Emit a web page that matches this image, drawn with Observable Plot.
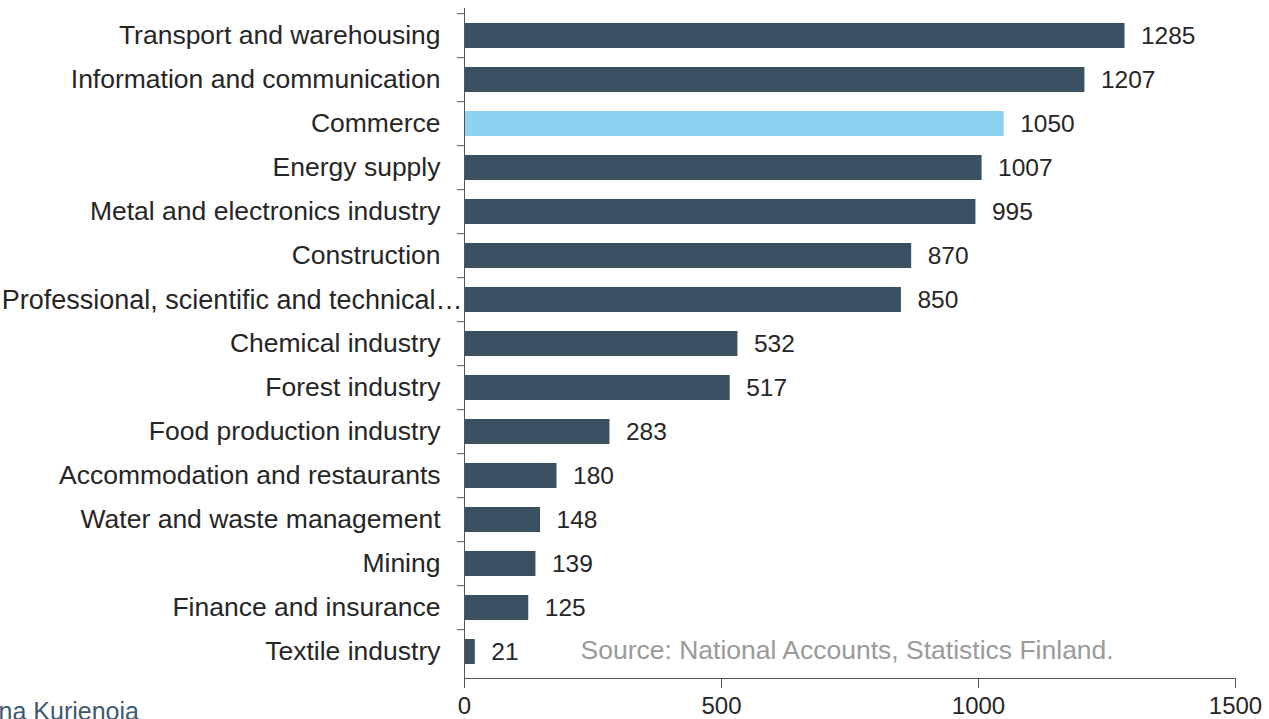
<!DOCTYPE html>
<html>
<head>
<meta charset="utf-8">
<script src="https://cdn.jsdelivr.net/npm/d3@7"></script>
<script src="https://cdn.jsdelivr.net/npm/@observablehq/plot@0.6"></script>
<style>
  html, body { margin: 0; padding: 0; background: #fff; overflow: hidden; }
  #wrap { position: relative; width: 1269px; height: 719px; overflow: hidden; }
  #author { position: absolute; left: -32px; top: 697px; font: 25px "Liberation Sans", Arial, sans-serif; color: #3d5a70; white-space: nowrap; }
</style>
</head>
<body>
<div id="wrap"><div id="author">Anna Kurjenoja</div></div>
<script>
const categories = [
  "Transport and warehousing",
  "Information and communication",
  "Commerce",
  "Energy supply",
  "Metal and electronics industry",
  "Construction",
  "Professional, scientific and technical…",
  "Chemical industry",
  "Forest industry",
  "Food production industry",
  "Accommodation and restaurants",
  "Water and waste management",
  "Mining",
  "Finance and insurance",
  "Textile industry"
];
const values = [1285, 1207, 1050, 1007, 995, 870, 850, 532, 517, 283, 180, 148, 139, 125, 21];
const highlighted = ["Commerce"];
const overlong = ["Professional, scientific and technical…"];
const xTicks = [0, 500, 1000, 1500];
const sourceNote = ["Source: National Accounts, Statistics Finland."];

const data = categories.map((c, i) => ({category: c, value: values[i], hi: highlighted.includes(c)}));

const height = 719, marginTop = 8, marginBottom = 41;
const step = (height - marginTop - marginBottom) / categories.length;

const chart = Plot.plot({
  width: 1269,
  height,
  marginLeft: 464,
  marginRight: 34,
  marginTop,
  marginBottom,
  style: {fontFamily: "'Liberation Sans', Arial, sans-serif", fontSize: "22px", color: "#262626", background: "white"},
  x: {domain: [0, 1500], ticks: xTicks, tickFormat: "d", label: null},
  y: {domain: categories, paddingInner: 0.44, paddingOuter: 0.22, label: null},
  marks: [
    Plot.barX(data, {x: "value", y: "category", fill: d => d.hi ? "#8dd2f1" : "#3a5162"}),
    Plot.text(data, {x: "value", y: "category", text: d => String(d.value), textAnchor: "start", dx: 16, fill: "#262626", fontSize: 24.5}),
    Plot.axisY({ticks: categories.filter(c => !overlong.includes(c)), tickSize: 0, tickPadding: 24, fontSize: 26.5, fill: "#262626"}),
    Plot.axisY({ticks: overlong, tickSize: 0, tickPadding: 2, fontSize: 27, fill: "#262626"}),
    Plot.axisY({text: null, tickSize: 7, dy: -step / 2, stroke: "#555"}),
    Plot.axisX({ticks: xTicks, tickFormat: "d", tickSize: 10, tickPadding: 8, fontSize: 24, fill: "#262626", stroke: "#555"}),
    Plot.frame({anchor: "left", stroke: "#555"}),
    Plot.frame({anchor: "bottom", stroke: "#555"}),
    Plot.text(sourceNote, {frameAnchor: "bottom-left", dx: 116, dy: -28, lineAnchor: "middle", textAnchor: "start", fill: "#9a9a9a", fontSize: 26.5})
  ]
});
document.getElementById("wrap").prepend(chart);
chart.style.display = "block";
</script>
</body>
</html>
